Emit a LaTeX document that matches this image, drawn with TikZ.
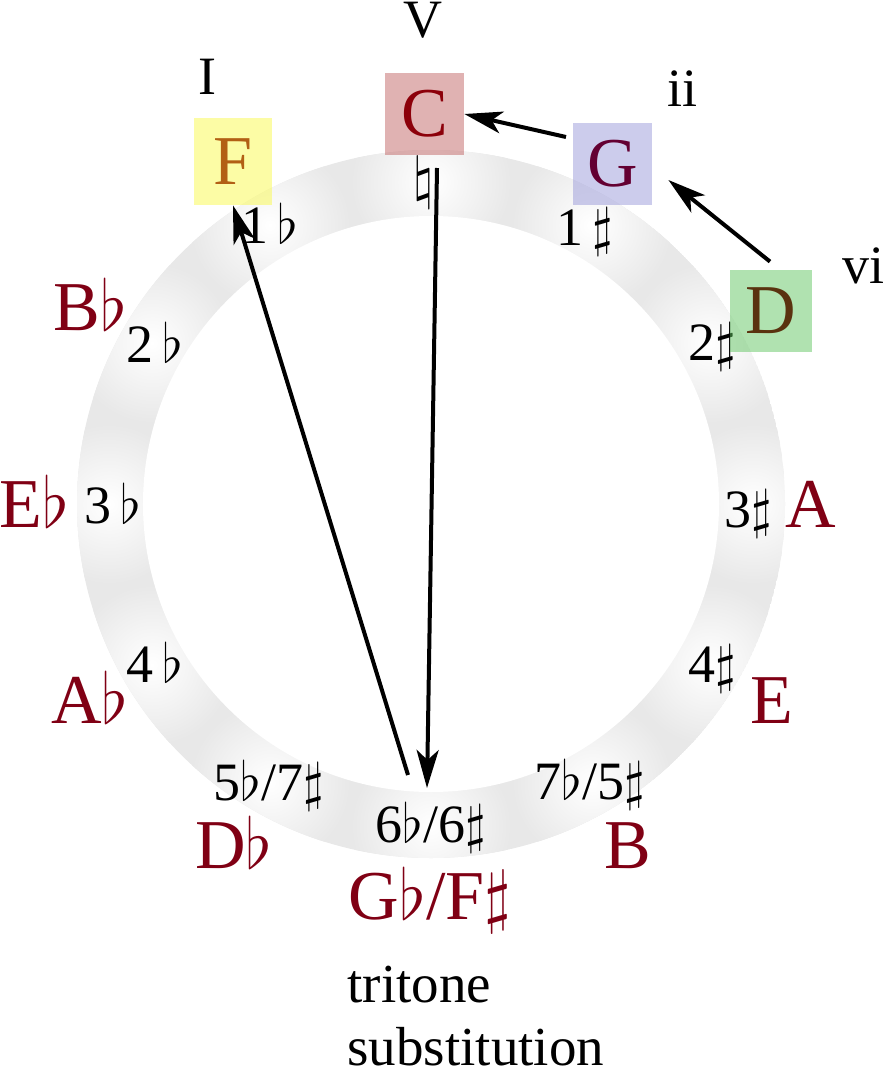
\RequirePackage{fix-cm}
\documentclass[tikz,border=0pt]{standalone}
\usepackage{fontspec}
\setmainfont{Liberation Serif}
\usetikzlibrary{arrows.meta,calc}
\definecolor{ringgray}{RGB}{232,232,232}
\definecolor{notered}{RGB}{128,0,20}
\definecolor{fcol}{RGB}{178,95,20}
\definecolor{ccol}{RGB}{140,0,10}
\definecolor{gcol}{RGB}{100,0,50}
\definecolor{dcol}{RGB}{90,50,15}
\definecolor{fboxc}{RGB}{249,249,75}
\definecolor{cboxc}{RGB}{193,101,101}
\definecolor{gboxc}{RGB}{153,153,217}
\definecolor{dboxc}{RGB}{97,197,97}
\newcommand{\myfl}{$\flat$}
\newcommand{\mysh}{$\sharp$}
\newcommand{\mynat}{$\natural$}
\tikzset{
  note/.style={text=notered, font=\fontsize{35}{42}\selectfont, anchor=base, inner sep=0pt},
  ringlbl/.style={font=\fontsize{27}{32}\selectfont, anchor=base, inner sep=0pt},
  roman/.style={font=\fontsize{27}{32}\selectfont, anchor=base, inner sep=0pt},
  plain/.style={font=\fontsize{27.5}{32}\selectfont, anchor=base west, inner sep=0pt},
  keybox/.style={fill opacity=0.5, text opacity=1, font=\fontsize{35}{42}\selectfont, inner sep=0pt, minimum width=39.5pt, minimum height=41pt},
  arr/.style={line width=2pt, -{Stealth[length=19pt,width=11pt,inset=5pt]}},
}
\begin{document}
\begin{tikzpicture}[x=0.5pt,y=-0.5pt]
\useasboundingbox (0,0) rectangle (884,1070);
\coordinate (c) at (431,504);
% ring with glows
\begin{scope}
  \clip (c) circle[radius=354];
  \fill[ringgray] (c) circle[radius=354];
  \foreach \a in {90,60,...,-240}
    \shade[inner color=white, outer color=ringgray] ($(c)+({322*cos(\a)},{-322*sin(\a)})$) circle[radius=80];
\end{scope}
\fill[white] (c) circle[radius=288];
% ring labels
\node[inner sep=0pt, font=\fontsize{29}{32}\selectfont] (r0) at (424,183) {\mynat};
\node[ringlbl] (r1) at (585,245) {1\,\mysh};
\node[ringlbl] (r2) at (712,360) {2\mysh};
\node[ringlbl] (r3) at (748,527) {3\mysh};
\node[ringlbl] (r4) at (712,682) {4\mysh};
\node[ringlbl] (r5) at (590,799) {7\myfl/5\mysh};
\node[ringlbl] (r6) at (431,842) {6\myfl/6\mysh};
\node[ringlbl] (r7) at (269,800) {5\myfl/7\mysh};
\node[ringlbl] (r8) at (155,682) {4\,\myfl};
\node[ringlbl] (r9) at (113,523) {3\,\myfl};
\node[ringlbl] (r10) at (155,362) {2\,\myfl};
\node[ringlbl] (r11) at (270,243) {1\,\myfl};
% key boxes
\node[keybox, fill=fboxc, text=fcol, minimum width=39pt, minimum height=43.5pt] (F) at (233,161.5) {F};
\node[keybox, fill=cboxc, text=ccol] (C) at (424.5,114) {C};
\node[keybox, fill=gboxc, text=gcol] (G) at (612.5,164) {G};
\node[keybox, fill=dboxc, text=dcol, minimum width=41pt] (D) at (771,311) {D};
% other notes
\node[note] (Bb) at (90,330) {B\myfl};
\node[note] (Eb) at (34,527) {E\myfl};
\node[note] (Ab) at (90,723) {A\myfl};
\node[note] (Db) at (234,868) {D\myfl};
\node[note] (GbFs) at (430,919) {G\myfl/F\mysh};
\node[note] (B) at (628,868) {B};
\node[note] (E) at (772,723) {E};
\node[note] (A) at (811,527) {A};
% roman numerals
\node[roman] (rI) at (207,95) {I};
\node[roman] (rV) at (423,38) {V};
\node[roman] (rii) at (682,107) {ii};
\node[roman] (rvi) at (863,283) {vi};
% caption
\node[plain] (t1) at (347,1002) {tritone};
\node[plain] (t2) at (347,1065) {substitution};
% arrows
\coordinate (a1s) at (408,775);
\coordinate (a2s) at (437,168);
\coordinate (a2e) at (427,788);
\coordinate (a3s) at (566,137);
\draw[arr] (a1s) -- (F.south);
\draw[arr] (a2s) -- (a2e);
\draw[arr] (a3s) -- (C.east);
\draw[arr] ($(D.north)+(-1,-8)$) -- ($(G.east)+(16,16)$);
\end{tikzpicture}
\end{document}
